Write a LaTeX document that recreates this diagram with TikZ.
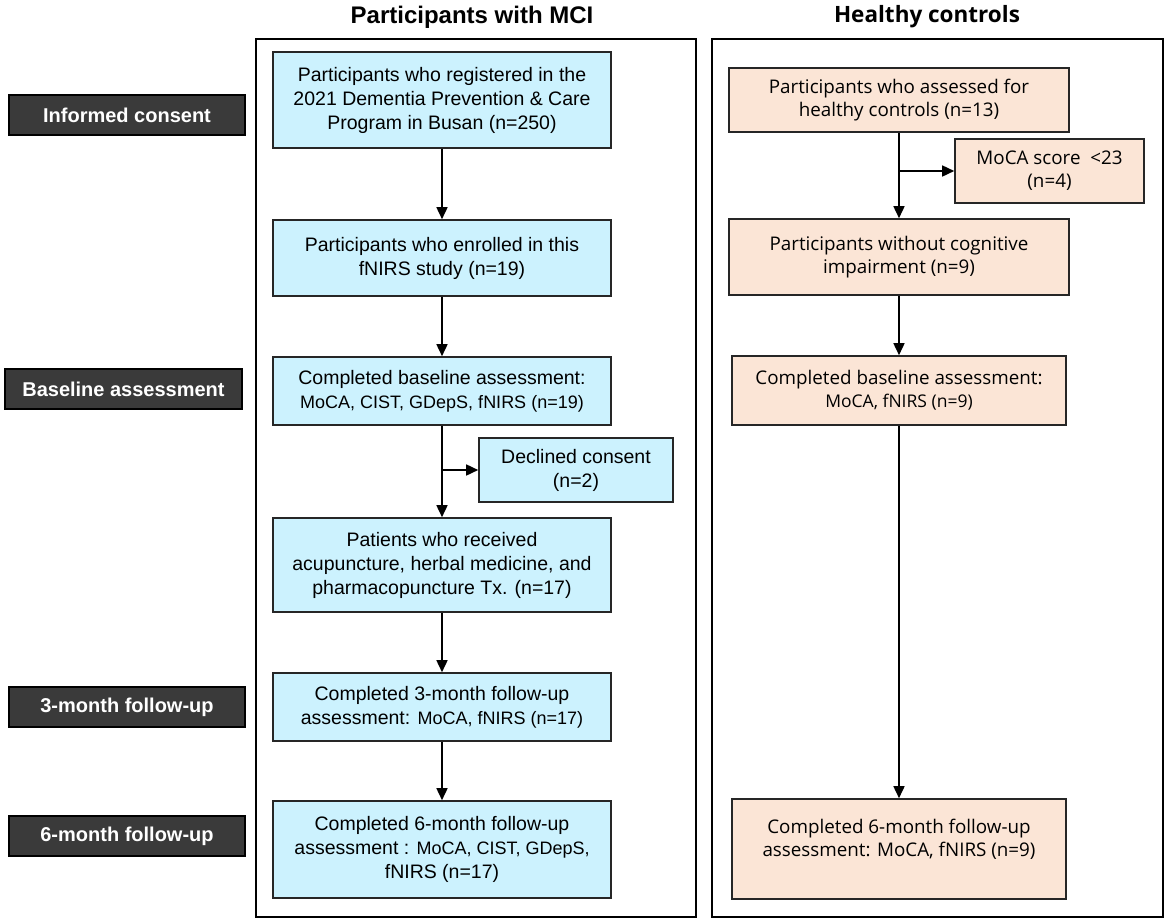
\documentclass[tikz,border=0pt]{standalone}
\usepackage{fontspec}
\setmainfont{Liberation Sans}
\newfontfamily\rfont{Open Sans}
\usetikzlibrary{arrows.meta}
\definecolor{mciblue}{HTML}{CCF2FE}
\definecolor{hcpeach}{HTML}{FBE5D6}
\definecolor{labdark}{HTML}{3A3A3A}
\newcommand\mysm{\fontsize{18bp}{24bp}\selectfont}
\newcommand\myrsm{\fontsize{17.5bp}{23bp}\selectfont}
\begin{document}
\begin{tikzpicture}[x=1bp,y=-1bp,
  mcibox/.style={draw=black!85, line width=1.6bp, fill=mciblue, inner sep=0pt, align=center,
    font=\fontsize{19.5bp}{24bp}\selectfont},
  hcbox/.style={draw=black!85, line width=1.6bp, fill=hcpeach, inner sep=0pt, align=center,
    font=\rfont\fontsize{18.8bp}{23bp}\selectfont},
  stagelab/.style={draw=black, line width=1.2bp, fill=labdark, text=white, inner sep=0pt,
    font=\bfseries\fontsize{20bp}{24bp}\selectfont, minimum width=236bp, minimum height=40bp},
  panel/.style={draw=black, line width=2.4bp},
  arr/.style={line width=1.6bp, -{Triangle[length=12bp,width=11bp]}},
  ]
\useasboundingbox (0,0) rectangle (1169,923);
% panels
\draw[panel] (256,39) rectangle (696,917);
\draw[panel] (712,39) rectangle (1163,917);
% titles
\node[font=\bfseries\fontsize{24bp}{28bp}\selectfont] (t1) at (472,17) {Participants with MCI};
\node[font=\rfont\bfseries\fontsize{22.5bp}{26bp}\selectfont] (t2) at (927,17) {Healthy controls};
% stage labels
\node[stagelab] (s1) at (127,115) {Informed consent};
\node[stagelab, minimum width=237bp] (s2) at (123.5,389) {Baseline assessment};
\node[stagelab] (s3) at (127,707) {3-month follow-up};
\node[stagelab] (s4) at (127,836) {6-month follow-up};
% MCI boxes
\node[mcibox, minimum width=338bp, minimum height=96bp] (b1) at (442,100)
  {Participants who registered in the\\2021 Dementia Prevention \& Care\\Program in Busan (n=250)};
\node[mcibox, minimum width=338bp, minimum height=76bp] (b2) at (442,258)
  {Participants who enrolled in this\\fNIRS study (n=19)};
\node[mcibox, minimum width=338bp, minimum height=68bp] (b3) at (442,391)
  {Completed baseline assessment:\\{\mysm MoCA, CIST, GDepS, fNIRS (n=19)}};
\node[mcibox, minimum width=194bp, minimum height=64bp] (dec) at (576,470)
  {Declined consent\\(n=2)};
\node[mcibox, minimum width=338bp, minimum height=94bp] (b4) at (442,565)
  {Patients who received\\acupuncture, herbal medicine, and\\pharmacopuncture Tx. (n=17)};
\node[mcibox, minimum width=338bp, minimum height=68bp] (b5) at (442,707)
  {Completed 3-month follow-up\\assessment: {\mysm MoCA, fNIRS (n=17)}};
\node[mcibox, minimum width=338bp, minimum height=97bp] (b6) at (442,849.5)
  {Completed 6-month follow-up\\assessment : {\mysm MoCA, CIST, GDepS,}\\fNIRS (n=17)};
% HC boxes
\node[hcbox, minimum width=340bp, minimum height=64bp] (r1) at (899,100)
  {Participants who assessed for\\healthy controls (n=13)};
\node[hcbox, minimum width=189bp, minimum height=64bp] (moca) at (1049.5,171)
  {MoCA score\ \ <23\\(n=4)};
\node[hcbox, minimum width=340bp, minimum height=76bp] (r2) at (899,257)
  {Participants without cognitive\\impairment (n=9)};
\node[hcbox, minimum width=334bp, minimum height=69bp] (r3) at (899,390.5)
  {Completed baseline assessment:\\{\myrsm MoCA, fNIRS (n=9)}};
\node[hcbox, minimum width=334bp, minimum height=100bp] (r4) at (899,849)
  {Completed 6-month follow-up\\assessment: MoCA, fNIRS (n=9)\\\mbox{}};
% connectors
\draw[arr] (b1) -- (b2);
\draw[arr] (b2) -- (b3);
\draw[arr] (b3) -- (b4);
\draw[arr] (b3.south |- dec.west) -- (dec.west);
\draw[arr] (b4) -- (b5);
\draw[arr] (b5) -- (b6);
\draw[arr] (r1) -- (r2);
\draw[arr] (r1.south |- moca.west) -- (moca.west);
\draw[arr] (r2) -- (r3);
\draw[arr] (r3) -- (r4);
\end{tikzpicture}
\end{document}
